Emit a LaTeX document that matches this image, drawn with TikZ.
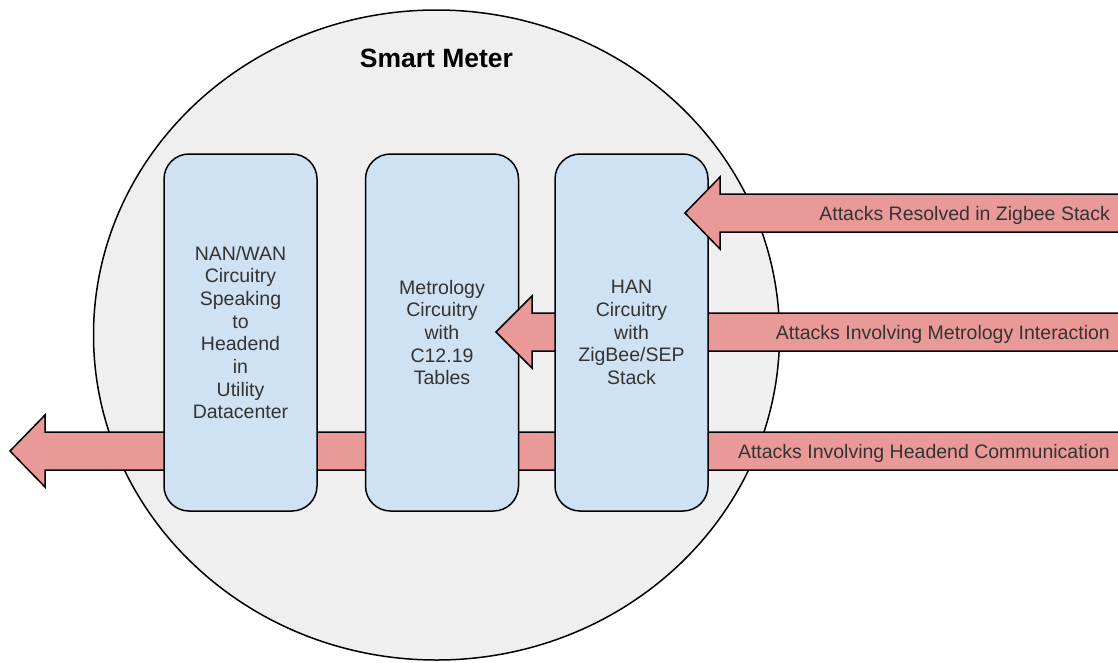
\documentclass[tikz,border=0pt]{standalone}
\usepackage{fontspec}
\setmainfont{Liberation Sans}
\usepackage{xcolor}
\usepackage{tikz}
\usetikzlibrary{calc,positioning}

\definecolor{meterfill}{HTML}{EFEFEF}
\definecolor{boxfill}{HTML}{CFE2F3}
\definecolor{attackfill}{HTML}{EA9999}

\tikzset{
  unit/.style={draw, fill=boxfill, line width=1.5pt, rounded corners=25pt,
    minimum width=153pt, minimum height=357pt, align=center, text=black!80,
    font=\fontsize{19.5}{22.7}\selectfont},
  attack/.style={draw, fill=attackfill, line width=1.5pt, line join=miter},
  attacklabel/.style={anchor=base east, inner sep=0pt, text=black!80,
    font=\fontsize{19.5}{22.7}\selectfont},
}

\begin{document}
\begin{tikzpicture}[x=1pt, y=-1pt]
       \clip (0,0) rectangle (1118,662);

       % the meter itself
       \draw[fill=meterfill, line width=1.5pt] (436.5,335) ellipse [x radius=343, y radius=325];
       \node[anchor=base, font=\fontsize{26.5}{30}\selectfont\bfseries] (title) at (436.5,67) {Smart Meter};

       % tips of the three attack arrows
       \coordinate (zbtip) at (685,213);
       \coordinate (mttip) at (496,332);
       \coordinate (hetip) at (10,451);

       % headend arrow runs behind every board
       \draw[attack] (hetip) -- ++(35,-36) -- ++(0,17) -- ++(1100,0) -- ++(0,38)
              -- ++(-1100,0) -- ++(0,17) -- cycle;

       \node[unit] (nan) at (240.5,332.5) {NAN/WAN\\Circuitry\\Speaking\\to\\Headend\\in\\Utility\\Datacenter};
       \node[unit, right=47pt of nan] (metro) {Metrology\\Circuitry\\with\\C12.19\\Tables};

       % metrology arrow sits on top of the metrology board
       \draw[attack] (mttip) -- ++(36,-36) -- ++(0,17) -- ++(600,0) -- ++(0,38)
              -- ++(-600,0) -- ++(0,17) -- cycle;

       \node[unit, right=35pt of metro] (han) {HAN\\Circuitry\\with\\ZigBee/SEP\\Stack};

       \draw[attack] (zbtip) -- ++(35,-36) -- ++(0,17) -- ++(420,0) -- ++(0,38)
              -- ++(-420,0) -- ++(0,17) -- cycle;

       \node[attacklabel] (zblabel) at (1110,220) {Attacks Resolved in Zigbee Stack};
       \node[attacklabel] (mtlabel) at (1110,339) {Attacks Involving Metrology Interaction};
       \node[attacklabel] (helabel) at (1110,458) {Attacks Involving Headend Communication};
\end{tikzpicture}
\end{document}
